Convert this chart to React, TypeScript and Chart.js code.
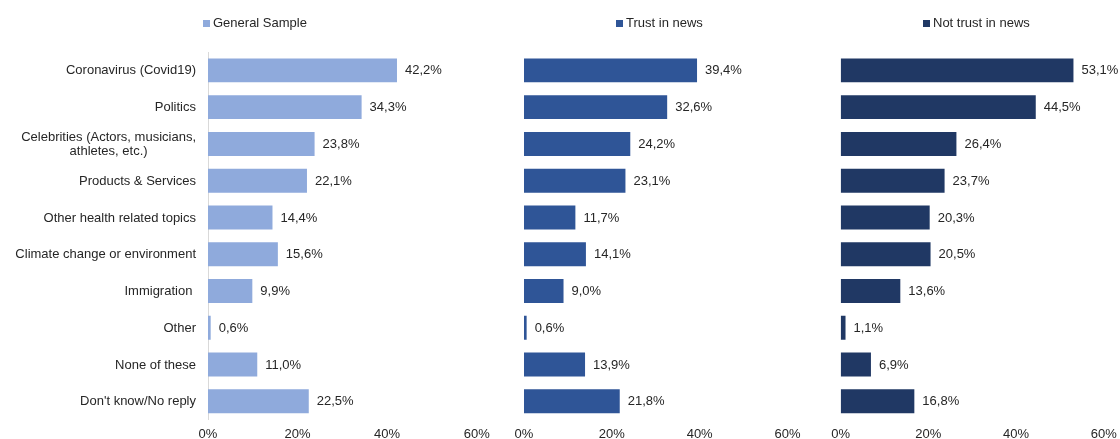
import React, { useEffect, useRef } from "react";
import { Chart, registerables } from "chart.js";

Chart.register(...registerables);

const categories: (string | string[])[] = [
  "Coronavirus (Covid19)",
  "Politics",
  ["Celebrities (Actors, musicians,", "athletes, etc.)"],
  "Products & Services",
  "Other health related topics",
  "Climate change or environment",
  "Immigration ",
  "Other",
  "None of these",
  "Don't know/No reply",
];

const seriesNames = ["General Sample", "Trust in news", "Not trust in news"];
const generalSample = [42.2, 34.3, 23.8, 22.1, 14.4, 15.6, 9.9, 0.6, 11.0, 22.5];
const trustInNews = [39.4, 32.6, 24.2, 23.1, 11.7, 14.1, 9.0, 0.6, 13.9, 21.8];
const notTrustInNews = [53.1, 44.5, 26.4, 23.7, 20.3, 20.5, 13.6, 1.1, 6.9, 16.8];
const xTicks = [0, 20, 40, 60];

const FONT_FAMILY = "'Liberation Sans', Arial, sans-serif";
const TEXT = "#262626";

const fmt = (v: number) => v.toFixed(1).replace(".", ",") + "%";

const legendPlugin = {
  id: "topLegend",
  afterDraw(chart: any, _args: any, opts: any) {
    const ctx = chart.ctx;
    const ds = chart.data.datasets[0];
    ctx.save();
    ctx.font = `13px ${FONT_FAMILY}`;
    const tw = ctx.measureText(ds.label).width;
    const box = 7;
    const gap = 3;
    const total = box + gap + tw;
    const cx = chart.width / 2 + (opts.shift || 0);
    const x0 = Math.round(cx - total / 2);
    ctx.fillStyle = ds.backgroundColor;
    ctx.fillRect(x0, 20, box, box);
    ctx.fillStyle = TEXT;
    ctx.textBaseline = "middle";
    ctx.textAlign = "left";
    ctx.fillText(ds.label, x0 + box + gap, 23.5);
    ctx.restore();
  },
};

const valueLabelPlugin = {
  id: "valueLabels",
  afterDatasetsDraw(chart: any) {
    const ctx = chart.ctx;
    ctx.save();
    ctx.font = `13px ${FONT_FAMILY}`;
    ctx.fillStyle = TEXT;
    ctx.textBaseline = "middle";
    ctx.textAlign = "left";
    chart.data.datasets.forEach((ds: any, di: number) => {
      const meta = chart.getDatasetMeta(di);
      meta.data.forEach((bar: any, i: number) => {
        ctx.fillText(fmt(ds.data[i]), bar.x + 8, bar.y + 0.5);
      });
    });
    ctx.restore();
  },
};

const categoryLabelPlugin = {
  id: "categoryLabels",
  afterDraw(chart: any, _args: any, opts: any) {
    if (!opts.show) return;
    const ctx = chart.ctx;
    const yScale = chart.scales.y;
    const right = chart.chartArea.left - 12;
    ctx.save();
    ctx.font = `13px ${FONT_FAMILY}`;
    ctx.fillStyle = TEXT;
    ctx.textBaseline = "middle";
    ctx.textAlign = "center";
    const lh = 14.5;
    chart.data.labels.forEach((lab: any, i: number) => {
      const lines: string[] = Array.isArray(lab) ? lab : [lab];
      const w = Math.max(...lines.map((l) => ctx.measureText(l).width));
      const cx = right - w / 2;
      const y = yScale.getPixelForValue(i);
      const y0 = y - ((lines.length - 1) * lh) / 2;
      lines.forEach((l, k) => ctx.fillText(l, cx, y0 + k * lh + 0.5));
    });
    ctx.restore();
  },
};

type PanelProps = {
  left: number;
  width: number;
  padLeft: number;
  padRight: number;
  showAxis: boolean;
  name: string;
  values: number[];
  color: string;
  legendShift: number;
};

const H = 460;

function Panel(p: PanelProps) {
  const ref = useRef<HTMLCanvasElement>(null);
  useEffect(() => {
    if (!ref.current) return;
    const yScale: any = {
      display: p.showAxis,
      grid: { display: false, drawTicks: false },
      border: { display: p.showAxis, color: "#d9d9d9", width: 1 },
      ticks: { display: false },
    };
    if (p.showAxis) {
      yScale.afterFit = (s: any) => {
        s.width = 208;
      };
    }
    const chart = new Chart(ref.current, {
      type: "bar",
      data: {
        labels: categories as any,
        datasets: [
          {
            label: p.name,
            data: p.values,
            backgroundColor: p.color,
            barPercentage: 0.65,
            categoryPercentage: 1,
          },
        ],
      },
      options: {
        indexAxis: "y",
        responsive: false,
        animation: false,
        devicePixelRatio: 1,
        layout: {
          padding: { top: 52, bottom: 10.7, left: p.padLeft, right: p.padRight },
        },
        plugins: {
          legend: { display: false },
          tooltip: { enabled: false },
          topLegend: { shift: p.legendShift },
          categoryLabels: { show: p.showAxis },
        } as any,
        scales: {
          x: {
            min: 0,
            max: 60,
            afterBuildTicks: (s: any) => {
              s.ticks = xTicks.map((v) => ({ value: v }));
            },
            grid: { display: false, drawTicks: false },
            border: { display: false },
            ticks: {
              padding: 7,
              color: TEXT,
              font: { family: FONT_FAMILY, size: 13 },
              maxRotation: 0,
              autoSkip: false,
              callback: (v: any) => `${v}%`,
            },
          },
          y: yScale,
        },
      },
      plugins: [legendPlugin, valueLabelPlugin, categoryLabelPlugin],
    });
    return () => chart.destroy();
  }, []);
  return (
    <canvas
      ref={ref}
      width={p.width}
      height={H}
      style={{ position: "absolute", left: p.left, top: 0, width: p.width, height: H, display: "block" }}
    />
  );
}

export default function App() {
  return (
    <div
      style={{
        position: "fixed",
        left: 0,
        top: 0,
        width: 1120,
        height: 439,
        overflow: "hidden",
        background: "#ffffff",
      }}
    >
      <Panel left={0} width={510} padLeft={0} padRight={33.3} showAxis={true} name={seriesNames[0]} values={generalSample} color="#8faadc" legendShift={0} />
      <Panel left={504} width={309} padLeft={20} padRight={25.5} showAxis={false} name={seriesNames[1]} values={trustInNews} color="#2f5597" legendShift={0.7} />
      <Panel left={821} width={308} padLeft={19.7} padRight={25.3} showAxis={false} name={seriesNames[2]} values={notTrustInNews} color="#203864" legendShift={1.7} />
    </div>
  );
}
